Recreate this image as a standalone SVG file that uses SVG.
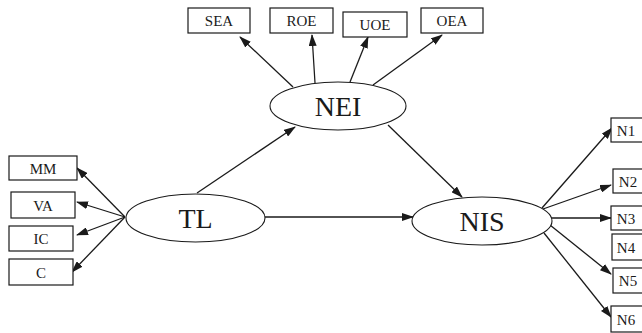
<svg xmlns="http://www.w3.org/2000/svg" width="642" height="333" viewBox="0 0 642 333">
<defs>
<marker id="ah" markerWidth="12" markerHeight="8" refX="11" refY="4" orient="auto" markerUnits="userSpaceOnUse">
<path d="M0,0 L12,4 L0,8 Z" fill="#1a1a1a"/>
</marker>
<style>
.box{fill:#fff;stroke:#1a1a1a;stroke-width:1.2}
.ell{fill:#fff;stroke:#1a1a1a;stroke-width:1.1}
.s{font-family:"Liberation Serif","Times New Roman",serif;font-size:15px;fill:#1a1a1a;text-anchor:middle}
.l{font-family:"Liberation Serif","Times New Roman",serif;font-size:28px;fill:#1a1a1a;text-anchor:middle}
.c line{stroke:#1a1a1a;stroke-width:1.3;marker-end:url(#ah)}
</style>
</defs>
<rect width="642" height="333" fill="#fff"/>
<g class="c" id="connectors">
<line x1="293" y1="87" x2="240" y2="37"/>
<line x1="315" y1="83" x2="312" y2="35"/>
<line x1="350" y1="82" x2="368" y2="37"/>
<line x1="373" y1="85" x2="442" y2="35"/>
<line x1="125" y1="217" x2="77" y2="168"/>
<line x1="125" y1="217" x2="77" y2="202"/>
<line x1="125" y1="217" x2="77" y2="235"/>
<line x1="125" y1="217" x2="72" y2="272"/>
<line x1="197" y1="193" x2="295" y2="127"/>
<line x1="265" y1="217" x2="413" y2="217"/>
<line x1="388" y1="125" x2="462" y2="197"/>
<line x1="542" y1="208" x2="612" y2="128"/>
<line x1="543" y1="209" x2="611" y2="185"/>
<line x1="551" y1="218" x2="611" y2="218"/>
<line x1="550" y1="225" x2="611" y2="274"/>
<line x1="544" y1="233" x2="611" y2="317"/>
</g>
<g id="NEI"><ellipse class="ell" cx="338" cy="106" rx="68" ry="24"/><text class="l" x="338" y="116">NEI</text></g>
<g id="TL"><ellipse class="ell" cx="195.5" cy="218" rx="69.5" ry="24"/><text class="l" x="195.5" y="228">TL</text></g>
<g id="NIS"><ellipse class="ell" cx="482" cy="221" rx="70" ry="24"/><text class="l" x="482" y="231">NIS</text></g>
<g id="SEA"><rect class="box" x="188" y="8" width="62" height="25"/><text class="s" x="219" y="25.5">SEA</text></g>
<g id="ROE"><rect class="box" x="270" y="8" width="63" height="25"/><text class="s" x="301.5" y="25.5">ROE</text></g>
<g id="UOE"><rect class="box" x="343" y="12" width="64" height="25"/><text class="s" x="375" y="29.5">UOE</text></g>
<g id="OEA"><rect class="box" x="421" y="8" width="62" height="25"/><text class="s" x="452" y="25.5">OEA</text></g>
<g id="MM"><rect class="box" x="9" y="156" width="68" height="24"/><text class="s" x="43" y="173.5">MM</text></g>
<g id="VA"><rect class="box" x="11" y="192" width="64" height="26"/><text class="s" x="43" y="210.5">VA</text></g>
<g id="IC"><rect class="box" x="9" y="226" width="64" height="25"/><text class="s" x="41" y="243.5">IC</text></g>
<g id="C"><rect class="box" x="9" y="259" width="64" height="26"/><text class="s" x="41" y="277.5">C</text></g>
<g id="N1"><rect class="box" x="611" y="118" width="40" height="24"/><text class="s" x="626" y="135.5">N1</text></g>
<g id="N2"><rect class="box" x="613" y="169" width="40" height="24"/><text class="s" x="628" y="186.5">N2</text></g>
<g id="N3"><rect class="box" x="611" y="206" width="40" height="24"/><text class="s" x="626" y="223.5">N3</text></g>
<g id="N4"><rect class="box" x="612" y="234" width="40" height="26"/><text class="s" x="626" y="252.5">N4</text></g>
<g id="N5"><rect class="box" x="613" y="268" width="40" height="25"/><text class="s" x="628" y="285.5">N5</text></g>
<g id="N6"><rect class="box" x="611" y="306" width="40" height="26"/><text class="s" x="626" y="324.5">N6</text></g>
</svg>
